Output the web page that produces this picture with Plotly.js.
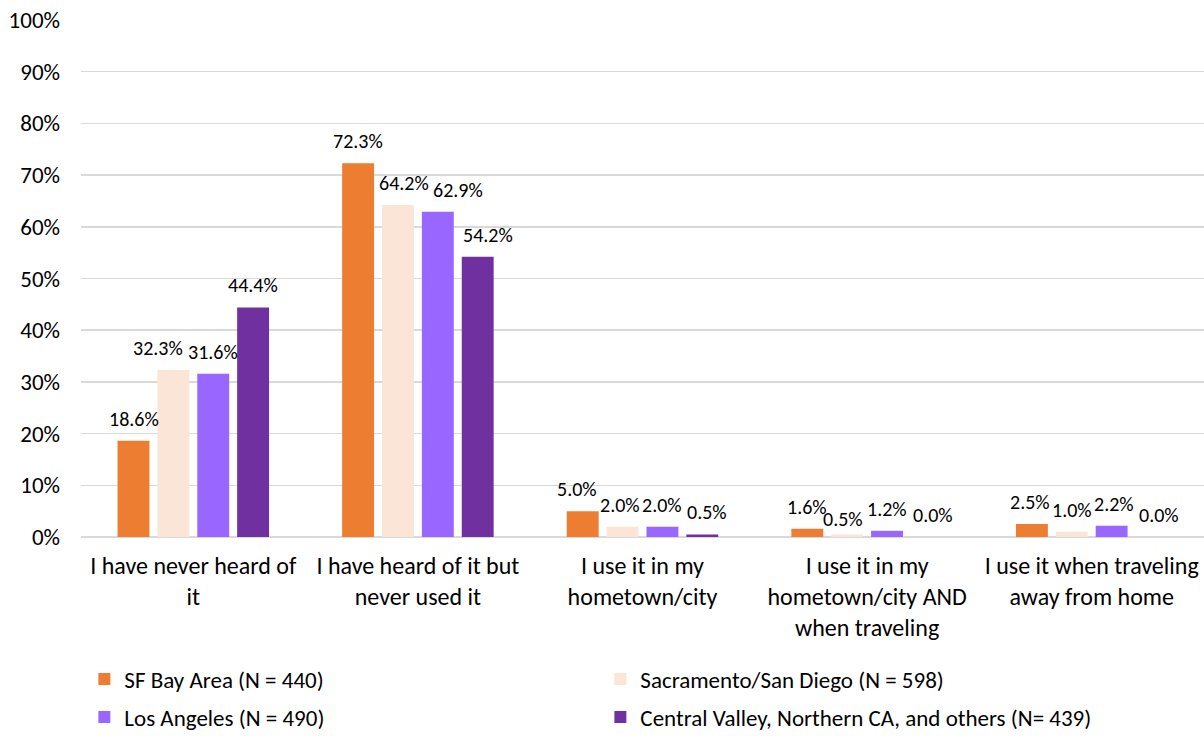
<!DOCTYPE html>
<html>
<head>
<meta charset="utf-8">
<script src="https://cdn.plot.ly/plotly-3.0.1.min.js"></script>
<style>html,body{margin:0;padding:0;background:#fff;}#chart{width:1204px;height:736px;}</style>
</head>
<body>
<div id="chart"></div>
<script>
const categories = [
  "I have never heard of<br>it",
  "I have heard of it but<br>never used it",
  "I use it in my<br>hometown/city",
  "I use it in my<br>hometown/city AND<br>when traveling",
  "I use it when traveling<br>away from home"
];
const seriesNames = [
  "SF Bay Area (N = 440)",
  "Sacramento/San Diego (N = 598)",
  "Los Angeles (N = 490)",
  "Central Valley, Northern CA, and others (N= 439)"
];
const sfBay = [18.6, 72.3, 5.0, 1.6, 2.5];
const sacSd = [32.3, 64.2, 2.0, 0.5, 1.0];
const la = [31.6, 62.9, 2.0, 1.2, 2.2];
const central = [44.4, 54.2, 0.5, 0.0, 0.0];
const colors = ["#ED7D31", "#FBE5D6", "#9966FF", "#7030A0"];
const tickVals = [0, 10, 20, 30, 40, 50, 60, 70, 80, 90, 100];
const tickText = tickVals.map(v => v + "%");

const FONT = "Carlito, Calibri, Lato, 'Liberation Sans', sans-serif";
const allSeries = [sfBay, sacSd, la, central];
const legendIds = ["legend", "legend", "legend2", "legend2"];

// layout geometry
const W = 1204, H = 736;
const margin = {l: 81, r: 0, t: 20, b: 199};
const bargap = 0.29, bargroupgap = 0.2;
const catPx = (W - margin.l - margin.r) / categories.length;
const slotPx = catPx * (1 - bargap) / allSeries.length;

// label nudges (pixels) to keep crowded labels apart, as in the original
const nudgeX = [
  [0, 0, -6, 0, -2],
  [-15, 6, -3, -4, 0],
  [0, 20, 0, 0, 2],
  [0, 10, 5, 6, 8]
];
const nudgeY = [
  [0, 0, 0, 0, 0],
  [0, 0, 0, -7, 0],
  [0, 0, 0, 0, 0],
  [0, 0, 0, 0, 0]
];

const traces = allSeries.map((vals, i) => ({
  type: "bar",
  name: seriesNames[i],
  legend: legendIds[i],
  x: categories,
  y: vals,
  marker: {color: colors[i]},
  hoverinfo: "none"
}));

const annotations = [];
allSeries.forEach((vals, i) => {
  vals.forEach((v, j) => {
    annotations.push({
      x: categories[j],
      y: v,
      xref: "x",
      yref: "y",
      text: v.toFixed(1) + "%",
      showarrow: false,
      xanchor: "center",
      yanchor: "bottom",
      xshift: (i - (allSeries.length - 1) / 2) * slotPx + nudgeX[i][j],
      yshift: 8 + nudgeY[i][j],
      font: {family: FONT, size: 20, color: "#000"}
    });
  });
});

const legendCommon = {
  orientation: "h",
  x: 0.003,
  xanchor: "left",
  yref: "container",
  yanchor: "middle",
  entrywidth: 471,
  entrywidthmode: "pixels",
  font: {family: FONT, size: 23, color: "#000"},
  traceorder: "normal",
  borderwidth: 0,
  bgcolor: "rgba(0,0,0,0)"
};

const layout = {
  width: W,
  height: H,
  margin: margin,
  paper_bgcolor: "#fff",
  plot_bgcolor: "#fff",
  font: {family: FONT, size: 21, color: "#000"},
  barmode: "group",
  bargap: bargap,
  bargroupgap: bargroupgap,
  showlegend: true,
  annotations: annotations,
  xaxis: {
    type: "category",
    tickfont: {family: FONT, size: 24, color: "#000"},
    showgrid: false,
    showline: false,
    ticks: "",
    ticklabelstandoff: 12,
    automargin: false
  },
  yaxis: {
    range: [0, 100],
    tickvals: tickVals,
    ticktext: tickText,
    showgrid: true,
    gridcolor: "#D9D9D9",
    gridwidth: 1.5,
    zeroline: true,
    zerolinecolor: "#D9D9D9",
    zerolinewidth: 1.5,
    tickfont: {family: FONT, size: 23, color: "#000"},
    ticks: "",
    ticklabelstandoff: 20,
    automargin: false
  },
  legend: Object.assign({}, legendCommon, {y: 1 - 679 / H}),
  legend2: Object.assign({}, legendCommon, {y: 1 - 717 / H})
};

Plotly.newPlot("chart", traces, layout, {displayModeBar: false, staticPlot: true});
</script>
</body>
</html>
